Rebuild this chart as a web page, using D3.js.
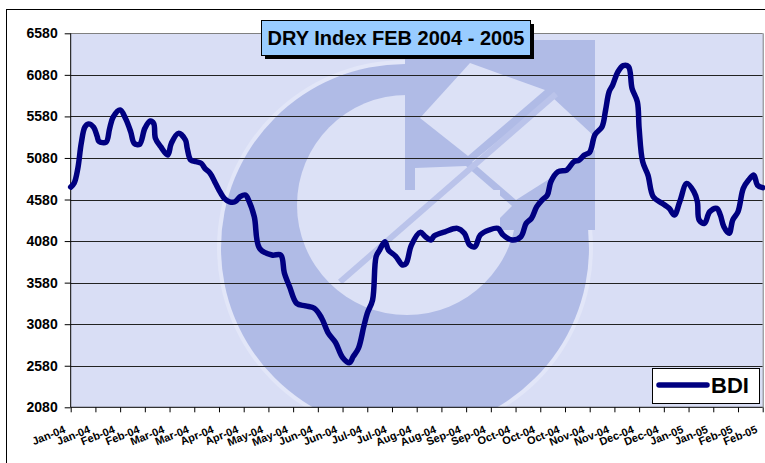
<!DOCTYPE html>
<html>
<head>
<meta charset="utf-8">
<script src="https://cdn.jsdelivr.net/npm/d3@7"></script>
<style>
  html, body { margin: 0; padding: 0; background: #fff; }
  svg { display: block; font-family: "Liberation Sans", Arial, sans-serif; }
</style>
</head>
<body>
<svg id="chart" width="765" height="463"></svg>
<script>
// ---- data ----
const title = "DRY Index FEB 2004 - 2005";
const seriesName = "BDI";
const tickLabels = ["Jan-04","Jan-04","Feb-04","Feb-04","Mar-04","Mar-04","Apr-04","Apr-04",
  "May-04","May-04","Jun-04","Jun-04","Jul-04","Jul-04","Aug-04","Aug-04","Sep-04","Sep-04",
  "Oct-04","Oct-04","Oct-04","Nov-04","Nov-04","Dec-04","Dec-04","Jan-05","Jan-05","Feb-05","Feb-05"];
const yTicks = [2080,2580,3080,3580,4080,4580,5080,5580,6080,6580];
// day offset from first label (labels every 14 days)
const days = [0,2,4,6,8,10,13,15,16,20,22,24,28,31,34,36,39,42,45,47,48,51,55,57,61,65,66,68,71,74,76,79,82,84,87,90,93,96,99,101,
  104,107,114,119,121,124,128,133,138,142,146,150,154,158,160,163,166,168,171,173,175,178,180,184,188,190,193,198,201,204,206,212,
  219,223,226,229,232,237,242,245,250,255,258,261,264,267,270,272,276,281,285,288,291,294,297,301,303,305,307,310,313,316,318,321,
  322,324,327,330,335,339,342,345,349,353,355,356,359,362,366,368,370,373,375,378,381,384,387,389,392];
const bdi = [4730,4780,4950,5260,5450,5490,5450,5340,5280,5270,5430,5570,5656,5557,5395,5256,5244,5436,5524,5496,5316,5215,5115,5256,5376,5296,5196,5055,5035,5015,4955,4895,4775,4694,4594,4553,4553,4614,4634,4560,
  4373,3993,3912,3912,3700,3531,3331,3300,3271,3160,2970,2860,2680,2617,2689,2790,3050,3211,3371,3892,3972,4072,3972,3900,3792,3812,4032,4185,4132,4093,4144,4192,
  4233,4173,4032,4012,4153,4213,4233,4153,4093,4132,4293,4353,4494,4574,4634,4794,4914,4935,5035,5055,5115,5150,5360,5456,5656,5877,5957,6117,6190,6178,5917,5756,
  5436,5035,4874,4614,4534,4474,4393,4553,4774,4674,4553,4333,4293,4433,4474,4393,4253,4173,4333,4433,4714,4815,4874,4754,4722];

// ---- layout ----
const svg = d3.select("#chart");
const L = 70.7, R = 762.7, T = 33.3, B = 407.3;
const x = d3.scaleLinear().domain([0, 392]).range([L, R]);
const y = d3.scaleLinear().domain([2080, 6580]).range([B, T]);

// outer chart border
svg.append("rect").attr("x", 6.5).attr("y", 9.5).attr("width", 820).attr("height", 520)
  .attr("fill", "#fff").attr("stroke", "#000").attr("stroke-width", 1);

// plot background
svg.append("defs").append("clipPath").attr("id", "plotClip")
  .append("rect").attr("x", L).attr("y", T).attr("width", R - L + 1).attr("height", B - T);
const bg = svg.append("g").attr("clip-path", "url(#plotClip)");
bg.append("rect").attr("x", L).attr("y", T).attr("width", R - L + 1).attr("height", B - T).attr("fill", "#D9DEF5");

// watermark logo
bg.append("circle").attr("cx", 405).attr("cy", 248).attr("r", 188).attr("fill", "#E2E6F8");
bg.append("circle").attr("cx", 405).attr("cy", 248).attr("r", 184).attr("fill", "#B0BBE6");
bg.append("circle").attr("cx", 407).attr("cy", 205).attr("r", 110).attr("fill", "#DCE1F6");
bg.append("rect").attr("x", 405).attr("y", 40).attr("width", 190).attr("height", 150).attr("fill", "#B0BBE6");
bg.append("rect").attr("x", 500).attr("y", 150).attr("width", 95).attr("height", 80).attr("fill", "#B0BBE6");
bg.append("polygon").attr("points", "470,63 545,90 468,156 420,118").attr("fill", "#DCE1F6");
bg.append("polygon").attr("points", "552,97 595,137 595,150 516,200 472,162").attr("fill", "#DCE1F6");
bg.append("polygon").attr("points", "415,168 466,166 512,206 480,238 415,238").attr("fill", "#DCE1F6");
bg.append("line").attr("x1", 340).attr("y1", 282).attr("x2", 556).attr("y2", 94)
  .attr("stroke", "#BAC3EA").attr("stroke-width", 6);

// gridlines
svg.append("g").selectAll("line").data(yTicks.slice(1)).join("line")
  .attr("x1", L).attr("x2", R).attr("y1", d => Math.round(y(d)) + 0.5).attr("y2", d => Math.round(y(d)) + 0.5)
  .attr("stroke", d => d === 6580 ? "#808080" : "#222").attr("stroke-width", 1);
// right border
svg.append("line").attr("x1", R + 0.5).attr("x2", R + 0.5).attr("y1", T).attr("y2", B)
  .attr("stroke", "#808080");

// y axis
const yAxis = svg.append("g").attr("transform", `translate(${L},0)`)
  .call(d3.axisLeft(y).tickValues(yTicks).tickSize(6).tickPadding(7).tickFormat(d3.format("d")));
yAxis.selectAll("path, line").attr("stroke", "#000");
yAxis.select(".domain").attr("d", `M0,${T}V${B}`);
yAxis.selectAll("text").attr("font-size", 14).attr("font-weight", "bold")
  .attr("font-family", "Liberation Sans, Arial, sans-serif").attr("fill", "#000");

// x axis
const xt = d3.range(tickLabels.length).map(i => i * 14);
const xAxis = svg.append("g").attr("transform", `translate(0,${B})`)
  .call(d3.axisBottom(x).tickValues(xt).tickSize(5).tickFormat(d => tickLabels[d / 14]));
xAxis.selectAll("path, line").attr("stroke", "#000");
xAxis.select(".domain").attr("d", `M${L},0H${R}`);
xAxis.selectAll("text")
  .attr("font-size", 11).attr("font-weight", "bold").attr("fill", "#000")
  .attr("font-family", "Liberation Sans, Arial, sans-serif")
  .attr("text-anchor", "end").attr("dy", null).attr("y", null)
  .attr("transform", "translate(-5,25) rotate(-22)");

// line
const line = d3.line().x((d, i) => x(days[i])).y(d => y(d)).curve(d3.curveCatmullRom.alpha(0.5));
svg.append("path").datum(bdi).attr("d", line)
  .attr("fill", "none").attr("stroke", "#000080").attr("stroke-width", 5.5)
  .attr("stroke-linejoin", "round").attr("stroke-linecap", "round");

// title box
const tb = { x: 261, y: 20, w: 269, h: 35 };
svg.append("rect").attr("x", tb.x + 4).attr("y", tb.y + 4).attr("width", tb.w).attr("height", tb.h).attr("fill", "#000");
svg.append("rect").attr("x", tb.x + 0.5).attr("y", tb.y + 0.5).attr("width", tb.w).attr("height", tb.h)
  .attr("fill", "#99CCFF").attr("stroke", "#000").attr("stroke-width", 1);
svg.append("text").attr("x", tb.x + tb.w / 2 + 0.5).attr("y", 45).attr("text-anchor", "middle")
  .attr("font-size", 20).attr("font-weight", "bold").attr("fill", "#000").text(title);

// legend
const lg = { x: 652.5, y: 368.5, w: 107, h: 35 };
svg.append("rect").attr("x", lg.x).attr("y", lg.y).attr("width", lg.w).attr("height", lg.h)
  .attr("fill", "#fff").attr("stroke", "#000").attr("stroke-width", 1);
svg.append("line").attr("x1", 659).attr("x2", 707).attr("y1", 385).attr("y2", 385)
  .attr("stroke", "#000080").attr("stroke-width", 5.5).attr("stroke-linecap", "round");
svg.append("text").attr("x", 711).attr("y", 393).attr("font-size", 22).attr("font-weight", "bold")
  .attr("fill", "#000").text(seriesName);
</script>
</body>
</html>
